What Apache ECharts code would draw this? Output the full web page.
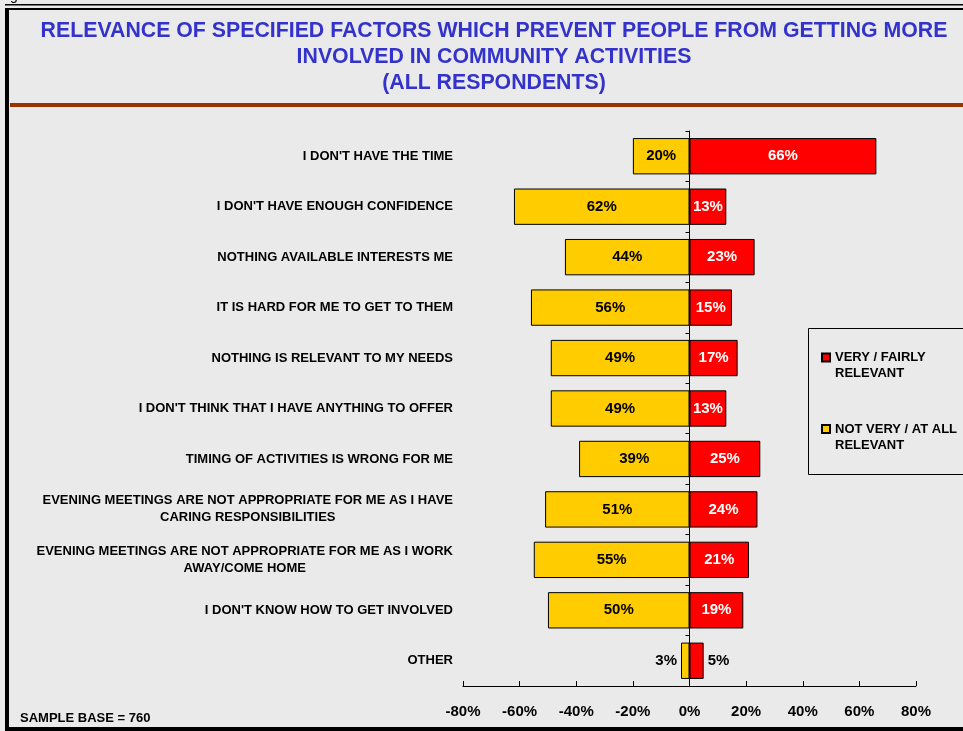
<!DOCTYPE html>
<html><head><meta charset="utf-8">
<script src="https://cdn.jsdelivr.net/npm/echarts@6/dist/echarts.min.js"></script>
<style>html,body{margin:0;padding:0;background:#eaeaea;}#c{width:963px;height:731px;}</style>
</head><body><div id="c"></div>
<script>
const categories = [
  "I DON'T HAVE THE TIME",
  "I DON'T HAVE ENOUGH CONFIDENCE",
  "NOTHING AVAILABLE INTERESTS ME",
  "IT IS HARD FOR ME TO GET TO THEM",
  "NOTHING IS RELEVANT TO MY NEEDS",
  "I DON'T THINK THAT I HAVE ANYTHING TO OFFER",
  "TIMING OF ACTIVITIES IS WRONG FOR ME",
  "EVENING MEETINGS ARE NOT APPROPRIATE FOR ME AS I HAVE\nCARING RESPONSIBILITIES",
  "EVENING MEETINGS ARE NOT APPROPRIATE FOR ME AS I WORK\nAWAY/COME HOME",
  "I DON'T KNOW HOW TO GET INVOLVED",
  "OTHER"
];
const notRelevant = [20, 62, 44, 56, 49, 49, 39, 51, 55, 50, 3];
const relevant = [66, 13, 23, 15, 17, 13, 25, 24, 21, 19, 5];
const xTicks = [-80, -60, -40, -20, 0, 20, 40, 60, 80];
const seriesNames = ["VERY / FAIRLY\nRELEVANT", "NOT VERY / AT ALL\nRELEVANT"];

const FONT = "'Liberation Sans', Arial, sans-serif";
const cats = categories.slice().reverse();
const nr = notRelevant.slice().reverse();
const rv = relevant.slice().reverse();
const small = 8;

const chart = echarts.init(document.getElementById('c'), null, {renderer: 'canvas'});
chart.setOption({
  backgroundColor: '#eaeaea',
  animation: false,
  title: {
    text: 'RELEVANCE OF SPECIFIED FACTORS WHICH PREVENT PEOPLE FROM GETTING MORE\nINVOLVED IN COMMUNITY ACTIVITIES\n(ALL RESPONDENTS)',
    left: 489, top: 13, textAlign: 'center',
    textStyle: {color: '#3333cc', fontFamily: FONT, fontWeight: 'bold', fontSize: 21.3, lineHeight: 26}
  },
  legend: {
    data: seriesNames,
    orient: 'vertical', left: 821, top: 333.5, padding: 0,
    itemWidth: 8, itemHeight: 8, itemGap: 23.5,
    icon: 'rect',
    formatter: n => '\n' + n,
    textStyle: {fontFamily: FONT, fontWeight: 'bold', fontSize: 13, color: '#000', lineHeight: 16},
    selectedMode: false
  },
  grid: {left: 463, right: 47, top: 131, bottom: 45, containLabel: false, outerBoundsMode: 'none'},
  xAxis: {
    type: 'value', min: -80, max: 80, interval: 20,
    axisLine: {show: true, lineStyle: {color: '#000', width: 1}},
    axisTick: {show: true, inside: true, length: 5, lineStyle: {color: '#000'}},
    splitLine: {show: false},
    axisLabel: {formatter: v => (xTicks.includes(v) ? v + '%' : ''), margin: 18, color: '#000',
      fontFamily: FONT, fontWeight: 'bold', fontSize: 15}
  },
  yAxis: {
    type: 'category', data: cats,
    axisLine: {show: true, onZero: true, lineStyle: {color: '#000', width: 1}},
    axisTick: {show: true, length: 4, lineStyle: {color: '#000'}},
    axisLabel: {
      margin: 10, color: '#000', align: 'right',
      formatter: v => v.split('\n').map(s => '{c|' + s + '}').join('\n'),
      rich: {c: {align: 'center', fontFamily: FONT, fontWeight: 'bold', fontSize: 13, lineHeight: 17, color: '#000'}}
    }
  },
  series: [
    {
      name: seriesNames[1], type: 'bar', stack: 'a', barCategoryGap: '28%',
      itemStyle: {color: '#ffcc00', borderColor: '#000', borderWidth: 1},
      label: {show: true, position: 'inside', color: '#000', fontFamily: FONT, fontWeight: 'bold', fontSize: 15,
        formatter: p => Math.abs(p.value) + '%'},
      data: nr.map(v => v < small ? {value: -v, label: {position: 'left', distance: 4}} : -v)
    },
    {
      name: seriesNames[0], type: 'bar', stack: 'a', barCategoryGap: '28%',
      itemStyle: {color: '#ff0000', borderColor: '#000', borderWidth: 1},
      label: {show: true, position: 'inside', color: '#fff', fontFamily: FONT, fontWeight: 'bold', fontSize: 15,
        formatter: p => p.value + '%'},
      data: rv.map(v => v < small ? {value: v, label: {position: 'right', distance: 4, color: '#000'}} : v)
    }
  ],
  graphic: [
    {type: 'rect', shape: {x: 808.5, y: 328.5, width: 170, height: 146}, style: {fill: 'none', stroke: '#000', lineWidth: 1}, silent: true},
    {type: 'rect', shape: {x: 10, y: 103, width: 953, height: 4}, style: {fill: '#993300'}, silent: true},
    {type: 'rect', shape: {x: 5, y: 4, width: 958, height: 1.5}, style: {fill: '#000'}, silent: true},
    {type: 'rect', shape: {x: 5, y: 8, width: 958, height: 2}, style: {fill: '#000'}, silent: true},
    {type: 'rect', shape: {x: 5, y: 8, width: 4, height: 723}, style: {fill: '#000'}, silent: true},
    {type: 'rect', shape: {x: 5, y: 727, width: 958, height: 4}, style: {fill: '#000'}, silent: true},
    {type: 'text', left: 20, top: 712, style: {text: 'SAMPLE BASE = 760', fill: '#000', font: "bold 13px 'Liberation Sans', Arial, sans-serif"}},
    {type: 'text', x: 10, y: -11, style: {text: 'g', fill: '#000', font: "14px 'Liberation Sans', Arial, sans-serif"}}
  ]
});
</script></body></html>
